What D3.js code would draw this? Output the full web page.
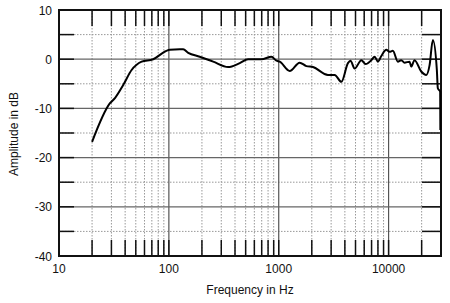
<!DOCTYPE html>
<html lang="en">
    <head>
        <meta charset="UTF-8" />
        <title>Frequency Response</title>
        <style>
            body { margin: 0; background: #fff; }
            text { font-family: 'Liberation Sans', Arial, sans-serif; fill: #111; }
        </style>
    </head>
    <body>
        <svg width="450" height="303"></svg>
        <script src="https://d3js.org/d3.v7.min.js"></script>
        <script>
            const freqs = [20, 29, 32.3, 38.5, 45.8, 56.5, 72, 95, 102, 126, 135, 150, 191, 253, 346, 442, 526, 696, 859, 953, 1020,
                1259, 1550, 1785, 2050, 2806, 3230, 3718, 4267, 4500, 4910, 5650, 6180, 6966, 7464, 8000, 8590, 9530, 10200, 10940,
                12150, 13030, 13970, 15520, 16070, 17220, 19820, 22030, 23620, 25300, 27500, 28070, 29500, 29600];
            const amps = [-16.8, -9.0, -7.9, -5.2, -2.2, -0.5, 0, 1.7, 1.9, 2.0, 2.0, 1.3, 0.5, -0.5, -1.6, -0.8, 0, 0, 0.5, -0.3, -0.5,
                -2.4, -0.7, -1.4, -1.6, -3.2, -3.2, -4.6, -0.8, -0.3, -1.9, -0.2, -1.0, -0.2, 0.5, -0.5, 0.65, 1.9, 1.5, 1.7,
                -0.5, -0.2, -0.7, -0.5, -1.5, -0.2, -2.5, -3.2, -1.2, 3.9, -2.2, -5.9, -6.6, -14.4];

            const yTicks = [10, 0, -10, -20, -30, -40];
            const yMinor = [5, -5, -15, -25, -35];
            const xLabels = [10, 100, 1000, 10000];
            const xMajor = [100, 1000, 10000];
            const xMinor = [20, 30, 40, 50, 60, 70, 80, 90, 200, 300, 400, 500, 600, 700, 800, 900,
                2000, 3000, 4000, 5000, 6000, 7000, 8000, 9000, 20000];

            const svg = d3.select('svg');
            const pl = 59, pr = 441, pt = 10, pb = 256;

            const x = d3.scaleLog().domain([10, 30000]).range([pl, pr]);
            const y = d3.scaleLinear().domain([-40, 10]).range([pb, pt]);

            const g = svg.append('g');

            // dotted grid
            g.selectAll('.vdot').data(xMinor).enter().append('line')
                .attr('x1', (d) => x(d)).attr('x2', (d) => x(d))
                .attr('y1', pt).attr('y2', pb)
                .attr('stroke', '#999').attr('stroke-width', 1).attr('stroke-dasharray', '1.5,1.5');
            g.selectAll('.hdot').data(yMinor).enter().append('line')
                .attr('x1', pl).attr('x2', pr)
                .attr('y1', (d) => y(d)).attr('y2', (d) => y(d))
                .attr('stroke', '#999').attr('stroke-width', 1).attr('stroke-dasharray', '1.5,1.5');

            // solid grid
            g.selectAll('.vsol').data(xMajor).enter().append('line')
                .attr('x1', (d) => x(d)).attr('x2', (d) => x(d))
                .attr('y1', pt).attr('y2', pb)
                .attr('stroke', '#555').attr('stroke-width', 1.2);
            g.selectAll('.hsol').data([0, -10, -20, -30]).enter().append('line')
                .attr('x1', pl).attr('x2', pr)
                .attr('y1', (d) => y(d)).attr('y2', (d) => y(d))
                .attr('stroke', '#666').attr('stroke-width', 1.3);

            // tick marks
            const xt = xMinor.concat(xMajor);
            g.selectAll('.tb').data(xt).enter().append('line')
                .attr('x1', (d) => x(d)).attr('x2', (d) => x(d))
                .attr('y1', pb).attr('y2', pb - 16)
                .attr('stroke', '#111').attr('stroke-width', 1.5);
            g.selectAll('.tt').data(xt).enter().append('line')
                .attr('x1', (d) => x(d)).attr('x2', (d) => x(d))
                .attr('y1', pt).attr('y2', pt + 16)
                .attr('stroke', '#111').attr('stroke-width', 1.5);
            const yt = yTicks.concat(yMinor).filter((d) => d > -40 && d < 10);
            g.selectAll('.tl').data(yt).enter().append('line')
                .attr('x1', pl).attr('x2', pl + 15)
                .attr('y1', (d) => y(d)).attr('y2', (d) => y(d))
                .attr('stroke', '#111').attr('stroke-width', 1.5);
            g.selectAll('.tr').data(yt).enter().append('line')
                .attr('x1', pr - 19).attr('x2', pr)
                .attr('y1', (d) => y(d)).attr('y2', (d) => y(d))
                .attr('stroke', '#111').attr('stroke-width', 1.5);

            // frame
            g.append('rect')
                .attr('x', pl).attr('y', pt)
                .attr('width', pr - pl).attr('height', pb - pt)
                .attr('fill', 'none').attr('stroke', '#111').attr('stroke-width', 2);

            // response curve
            const pts = freqs.map((f, i) => [f, amps[i]]);
            const line = d3.line().x((d) => x(d[0])).y((d) => y(d[1])).curve(d3.curveMonotoneX);
            g.append('path').datum(pts)
                .attr('d', line)
                .attr('fill', 'none').attr('stroke', '#000').attr('stroke-width', 2)
                .attr('stroke-linejoin', 'round');

            // labels
            g.selectAll('.yl').data(yTicks).enter().append('text')
                .attr('x', 52).attr('y', (d) => y(d) + 4.5)
                .attr('text-anchor', 'end').attr('font-size', 12)
                .text((d) => d);
            g.selectAll('.xl').data(xLabels).enter().append('text')
                .attr('x', (d) => x(d)).attr('y', 273)
                .attr('text-anchor', 'middle').attr('font-size', 12)
                .text((d) => d);

            svg.append('text')
                .attr('x', 250).attr('y', 294)
                .attr('text-anchor', 'middle').attr('font-size', 12)
                .text('Frequency in Hz');
            svg.append('text')
                .attr('transform', 'translate(18,134) rotate(-90)')
                .attr('text-anchor', 'middle').attr('font-size', 12)
                .text('Amplitude in dB');
        </script>
    </body>
</html>
